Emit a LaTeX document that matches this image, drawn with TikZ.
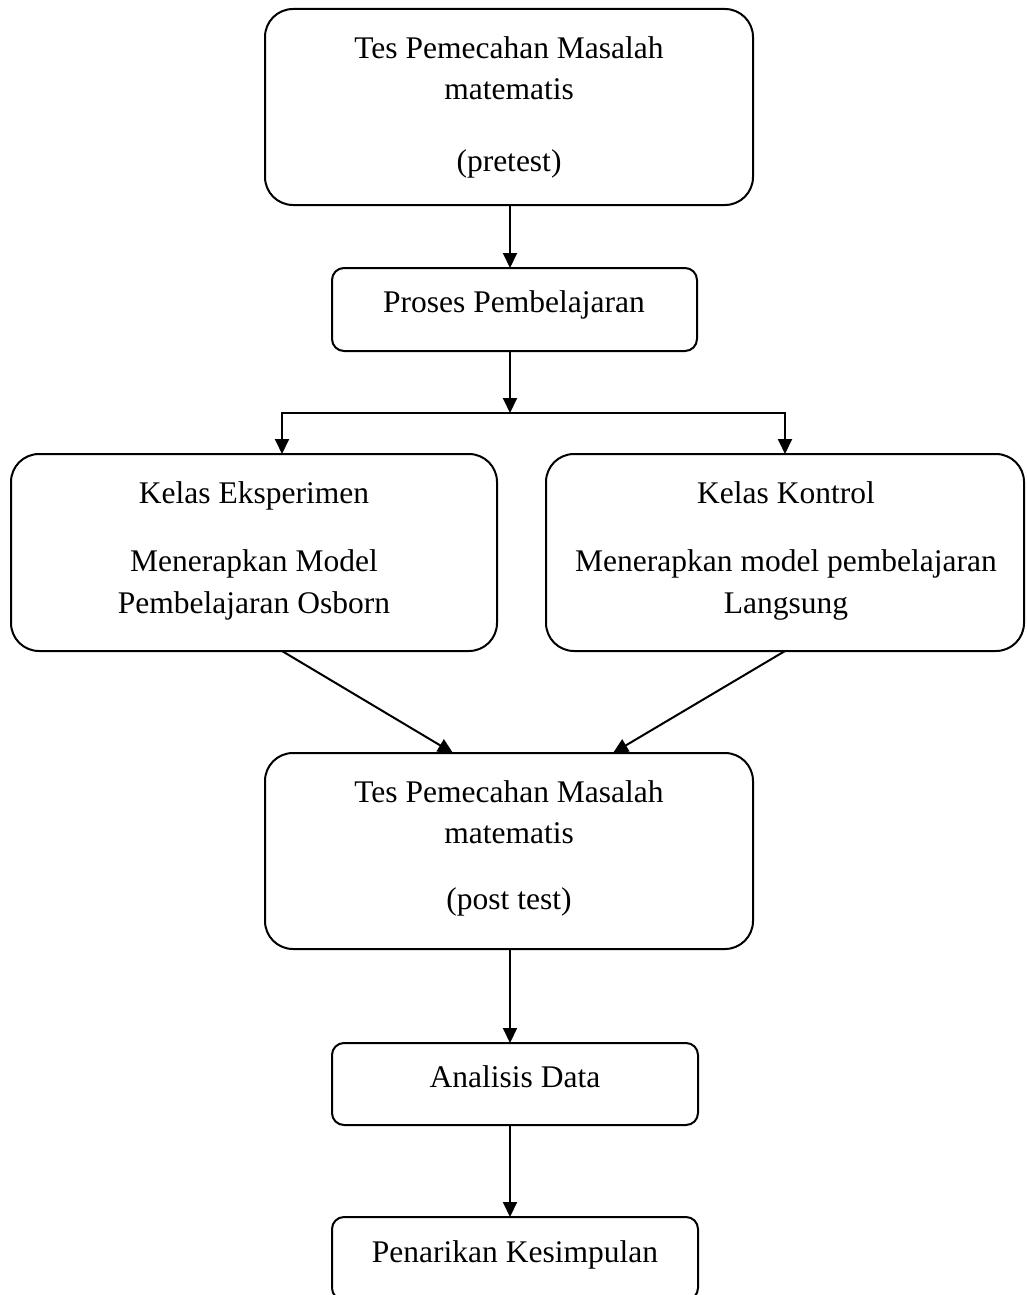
\documentclass[tikz,border=0pt]{standalone}
\usepackage{fontspec}
\setmainfont{Liberation Serif}
\usetikzlibrary{arrows.meta}
\begin{document}
\begin{tikzpicture}[x=1pt,y=-1pt,
  box/.style={draw,line width=2pt,rounded corners=#1,inner sep=0pt,outer sep=0pt},
  box/.default=28pt,
  txt/.style={inner sep=0pt,anchor=base,font=\fontsize{31.5}{42}\selectfont},
  arr/.style={line width=2pt,-{Triangle[length=15pt,width=14pt]}},
  ln/.style={line width=2pt,line cap=rect}]
\clip (0,0) rectangle (1026,1295);
\fill[white] (0,0) rectangle (1026,1295);
% boxes
\node[box,minimum width=488pt,minimum height=196pt] (b1) at (509,107) {};
\node[box=12pt,minimum width=365pt,minimum height=83pt] (b2) at (514.5,309.5) {};
\node[box,minimum width=486pt,minimum height=197pt] (b3) at (254,552.5) {};
\node[box,minimum width=478pt,minimum height=197pt] (b4) at (785,552.5) {};
\node[box,minimum width=488pt,minimum height=196pt] (b5) at (509,851) {};
\node[box=12pt,minimum width=366pt,minimum height=82pt] (b6) at (515,1084) {};
\node[box=12pt,minimum width=366pt,minimum height=83pt] (b7) at (515,1258.5) {};
% texts
\node[txt] (t1a) at (509,59) {Tes Pemecahan Masalah};
\node[txt] (t1b) at (509,100) {matematis};
\node[txt] (t1c) at (509,171) {(pretest)};
\node[txt] (t2) at (514,312) {Proses Pembelajaran};
\node[txt] (t3a) at (254,503) {Kelas Eksperimen};
\node[txt] (t3b) at (254,571) {Menerapkan Model};
\node[txt] (t3c) at (254,613) {Pembelajaran Osborn};
\node[txt] (t4a) at (786,503) {Kelas Kontrol};
\node[txt] (t4b) at (786,571) {Menerapkan model pembelajaran};
\node[txt] (t4c) at (786,613) {Langsung};
\node[txt] (t5a) at (509,802) {Tes Pemecahan Masalah};
\node[txt] (t5b) at (509,843) {matematis};
\node[txt] (t5c) at (509,909) {(post test)};
\node[txt] (t6) at (515,1087) {Analisis Data};
\node[txt] (t7) at (515,1262) {Penarikan Kesimpulan};
% connectors
\coordinate (mx) at (510,0);
\coordinate (split) at (510,413);
\coordinate (sl) at (282,413);
\coordinate (sr) at (785,413);
\coordinate (el) at (453,753);
\coordinate (er) at (613,753);
\draw[arr] (b1.south -| mx) -- (b2.north -| mx);
\draw[arr] (b2.south -| mx) -- (split);
\draw[ln] (sl) -- (sr);
\draw[arr] (sl) -- (sl |- b3.north);
\draw[arr] (sr) -- (sr |- b4.north);
\draw[arr] (sl |- b3.south) -- (el);
\draw[arr] (sr |- b4.south) -- (er);
\draw[arr] (b5.south -| mx) -- (b6.north -| mx);
\draw[arr] (b6.south -| mx) -- (b7.north -| mx);
\end{tikzpicture}
\end{document}
